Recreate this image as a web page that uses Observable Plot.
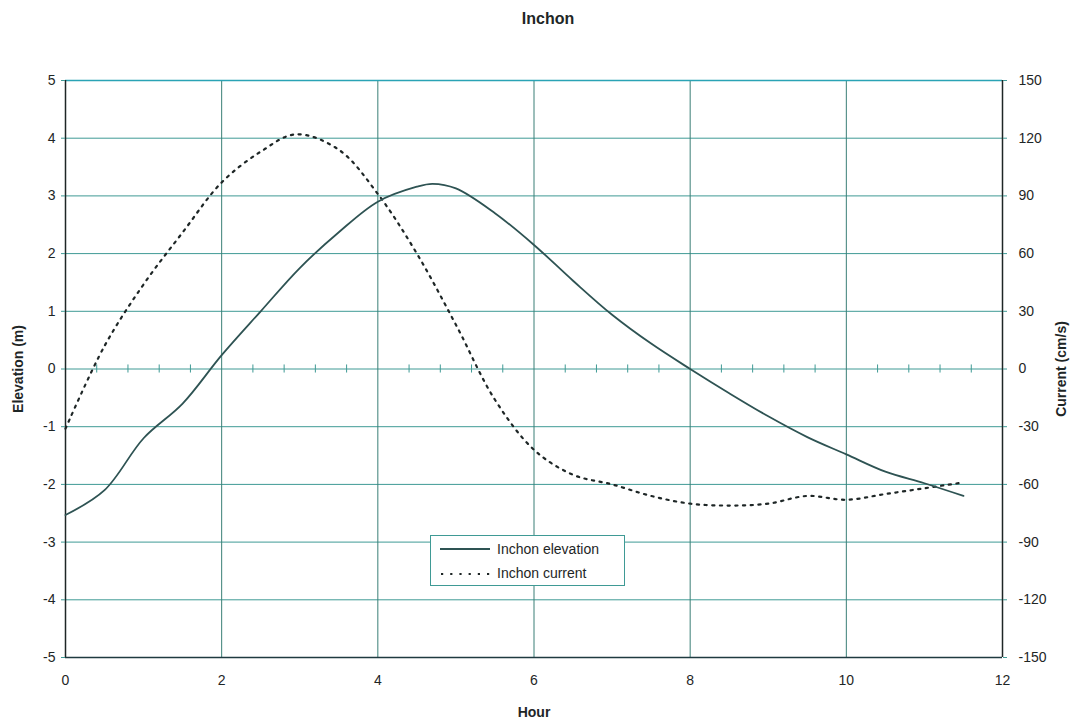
<!DOCTYPE html>
<html>
<head>
<meta charset="utf-8">
<script src="https://cdn.jsdelivr.net/npm/d3@7"></script>
<script src="https://cdn.jsdelivr.net/npm/@observablehq/plot@0.6"></script>
<style>
  html, body { margin: 0; padding: 0; background: #fff; }
  #wrap { position: relative; width: 1076px; height: 723px; font-family: "Liberation Sans", Arial, sans-serif; }
  #title { height: 40px; line-height: 38px; text-align: center; font-weight: bold; font-size: 16px; color: #1e2626; padding-left: 20px; }
  #legend { position: absolute; left: 430px; top: 535px; width: 193px; height: 49px; background: #fff;
            border: 1px solid #3f9a95; font-size: 14px; color: #1e2626; }
  #legend .row { position: absolute; left: 8px; display: flex; align-items: center; }
  #legend svg { margin-right: 6px; }
</style>
</head>
<body>
<div id="wrap">
  <div id="title">Inchon</div>
  <div id="chart"></div>
  <div id="legend">
    <div class="row" style="top:4px"><svg width="52" height="18"><line x1="1" x2="51" y1="9" y2="9" stroke="#2e5353" stroke-width="1.8"/></svg>Inchon elevation</div>
    <div class="row" style="top:28px"><svg width="52" height="18"><line x1="2" x2="51" y1="10" y2="10" stroke="#1e2626" stroke-width="2" stroke-dasharray="2.2,7"/></svg>Inchon current</div>
  </div>
</div>
<script>
// Hours after low water, sampled every half hour
const hours = [0, 0.5, 1, 1.5, 2, 2.5, 3, 3.5, 4, 4.5, 4.7, 5, 5.5, 6, 6.5, 7, 7.5, 8, 8.5, 9, 9.5, 10, 10.5, 11, 11.5];
// Tidal elevation (m)
const elevation = [-2.53, -2.1, -1.2, -0.6, 0.24, 1.0, 1.75, 2.37, 2.9, 3.16, 3.21, 3.13, 2.7, 2.15, 1.53, 0.94, 0.44, 0.0, -0.42, -0.82, -1.18, -1.48, -1.78, -1.98, -2.2];
// Tidal current (cm/s)
const currentHours = [0, 0.5, 1, 1.5, 2, 2.5, 2.95, 3.5, 4, 4.5, 5, 5.5, 6, 6.5, 7, 7.5, 8, 8.5, 9, 9.5, 10, 10.5, 11, 11.5];
const current = [-31, 12, 44, 71, 97, 113, 122, 114, 91, 60, 23, -16, -42, -55, -60, -66, -70, -71, -70, -66, -68, -65, -62, -59];

// Right axis in cm/s shares the left axis: 1 m corresponds to 30 cm/s
const ratio = 30;
const xTicks = [0, 2, 4, 6, 8, 10, 12];
const yTicks = [-5, -4, -3, -2, -1, 0, 1, 2, 3, 4, 5];
// minor ticks on the zero line every 0.4 h, skipping the major gridlines
const minorTicks = d3.range(1, 30).filter(i => i % 5 !== 0).map(i => i * 0.4);

const elevRows = hours.map((h, i) => ({hour: h, value: elevation[i]}));
const currRows = currentHours.map((h, i) => ({hour: h, value: current[i] / ratio}));

const grid = "#3f9a95";
const ink = "#1e2626";

const chart = Plot.plot({
  width: 1076,
  height: 683,
  marginLeft: 65,
  marginRight: 74,
  marginTop: 40,
  marginBottom: 66,
  style: {fontFamily: "Liberation Sans, Arial, sans-serif", fontSize: "14px", color: ink, background: "transparent"},
  x: {domain: [0, 12]},
  y: {domain: [-5, 5]},
  marks: [
    Plot.ruleY(yTicks.filter(d => d > -5 && d < 5), {stroke: grid, strokeWidth: 1}),
    Plot.ruleX(xTicks.filter(d => d > 0 && d < 12), {stroke: "#3a7f76", strokeWidth: 1}),
    Plot.ruleX(minorTicks, {x: d => d, y1: -0.07, y2: 0.07, stroke: grid, strokeWidth: 1}),
    Plot.ruleY([5], {stroke: "#2aa3b5", strokeWidth: 1.5}),
    Plot.ruleY([-5], {stroke: "#1f3a40", strokeWidth: 1.5}),
    Plot.ruleX([0, 12], {stroke: ink, strokeWidth: 1.5}),
    Plot.axisX(xTicks, {tickSize: 0, tickPadding: 18, tickFormat: d => String(d), label: "Hour", labelAnchor: "center", labelOffset: 59, labelArrow: "none"}),
    Plot.axisY(yTicks, {anchor: "left", tickSize: 4, tickPadding: 6, stroke: grid, tickFormat: d => String(d), label: "Elevation (m)", labelAnchor: "center", labelOffset: 52, labelArrow: "none"}),
    Plot.axisY(yTicks, {anchor: "right", tickSize: 4, tickPadding: 12, stroke: grid, tickFormat: d => String(d * ratio), label: "Current (cm/s)", labelAnchor: "center", labelOffset: 63, labelArrow: "none"}),
    Plot.line(currRows, {x: "hour", y: "value", curve: "catmull-rom", stroke: ink, strokeWidth: 2.2, strokeDasharray: "2.2,5.5"}),
    Plot.line(elevRows, {x: "hour", y: "value", curve: "catmull-rom", stroke: "#2e5353", strokeWidth: 1.8})
  ]
});

d3.select(chart).selectAll('[aria-label="y-axis label"], [aria-label="x-axis label"]')
  .style("font-weight", "bold").style("font-size", "14px");
d3.select(chart).selectAll('[aria-label="y-axis tick label"] text, [aria-label="x-axis tick label"] text')
  .attr("fill", ink);
document.getElementById("chart").appendChild(chart);
</script>
</body>
</html>
